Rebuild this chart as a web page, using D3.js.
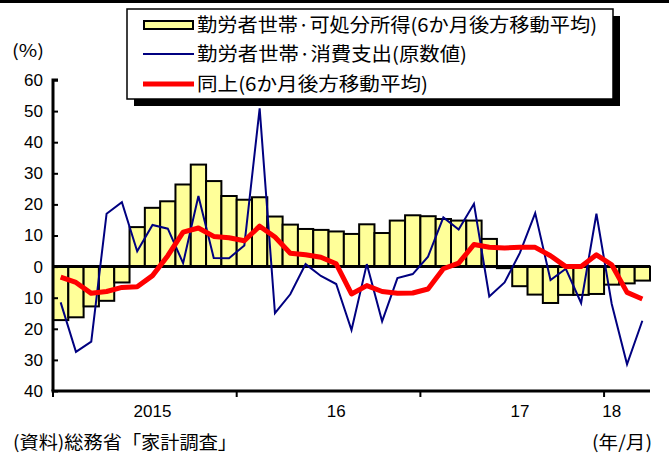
<!DOCTYPE html>
<html><head><meta charset="utf-8">
<script src="https://cdn.jsdelivr.net/npm/d3@7"></script>
<style>html,body{margin:0;padding:0;background:#fff;}svg{display:block;}</style>
</head><body>
<svg id="chart" width="669" height="458"></svg>
<script>
const months = ["2015-01","2015-02","2015-03","2015-04","2015-05","2015-06","2015-07","2015-08","2015-09","2015-10","2015-11","2015-12",
"2016-01","2016-02","2016-03","2016-04","2016-05","2016-06","2016-07","2016-08","2016-09","2016-10","2016-11","2016-12",
"2017-01","2017-02","2017-03","2017-04","2017-05","2017-06","2017-07","2017-08","2017-09","2017-10","2017-11","2017-12",
"2018-01","2018-02","2018-03"];
const income6m = [-17.2,-16.3,-12.8,-11,-5.1,12.7,18.9,21,26.4,32.8,27.5,22.7,
21.5,22.3,16.1,13.5,12.1,11.8,11.3,10.5,13.6,10.8,14.8,16.5,
16.2,15.3,14.8,14.8,8.9,-0.5,-6.3,-9,-11.7,-9.1,-9.1,-8.8,
-5.8,-5.4,-4.5];
const spending = [-11.5,-27.4,-24.1,17,20.7,4.9,13.4,12.2,1.1,22.7,2.8,2.7,
6.8,50.9,-15,-8.9,0.8,-3,-5.6,-20.4,0.8,-17.6,-3.7,-2.4,
3.2,15.8,11.9,20.2,-9.6,-5.1,4.4,17.2,-4.3,-0.7,-11.7,17,
-12,-31.4,-17.4];
const spending6m = [-3.4,-5.1,-8.6,-8,-6.7,-6.5,-2.9,3.5,11.1,12.4,9.7,9.3,
8.3,13,9.5,4.3,3.8,3,0.9,-8.8,-6.1,-8,-8.6,-8.5,
-7.2,-0.7,1.1,7.1,6.2,6,6.2,6.2,3.5,0,0,3.8,
0.6,-8.3,-10.4];
const yTicks = [60,50,40,30,20,10,0,-10,-20,-30,-40];
const yearTickMonths = ["2015-01","2016-01","2017-01","2018-01"];
const yearLabels = ["2015","16","17","18"];
const yearLabelMonths = ["2015-07","2016-07","2017-07","2018-01"];
const legendLabels = ["勤労者世帯·可処分所得(6か月後方移動平均)","勤労者世帯·消費支出(原数値)","同上(6か月後方移動平均)"];
const unitLabel = "(%)";
const sourceLabel = "(資料)総務省「家計調査」";
const xUnitLabel = "(年/月)";

const svg = d3.select("#chart");
const jp = "'Noto Sans CJK JP',sans-serif";
const pL = 53, pR = 650, pT = 80, pB = 391;

const x = d3.scaleBand().domain(months).range([pL, pR]).padding(0);
const y = d3.scaleLinear().domain([-40, 60]).range([pB, pT]);
const cx = m => x(m) + x.bandwidth() / 2;

// top black bar
svg.append("rect").attr("x",0).attr("y",0).attr("width",669).attr("height",3).attr("fill","#000");

// bars
svg.append("g").selectAll("rect").data(months).join("rect")
  .attr("x", m => x(m))
  .attr("width", x.bandwidth())
  .attr("y", (m,i) => y(Math.max(0, income6m[i])))
  .attr("height", (m,i) => Math.abs(y(income6m[i]) - y(0)))
  .attr("fill", "#FFFF99").attr("stroke", "#000").attr("stroke-width", 2);

// zero line
svg.append("line").attr("x1", pL).attr("x2", pR).attr("y1", y(0)).attr("y2", y(0))
  .attr("stroke","#000").attr("stroke-width",3);

// blue line
svg.append("path").datum(spending)
  .attr("d", d3.line().x((d,i)=>cx(months[i])).y(d=>y(d)))
  .attr("fill","none").attr("stroke","#000080").attr("stroke-width",2);

// red line
svg.append("path").datum(spending6m)
  .attr("d", d3.line().x((d,i)=>cx(months[i])).y(d=>y(d)))
  .attr("fill","none").attr("stroke","#FF0000").attr("stroke-width",5).attr("stroke-linejoin","round");

// y axis
const yAxis = d3.axisRight(y).tickValues(yTicks).tickSize(5).tickFormat(d => String(Math.abs(d)));
const gy = svg.append("g").attr("transform", `translate(${pL},0)`).call(yAxis);
gy.select(".domain").attr("stroke-width",3).attr("d", `M5,${pT}H0V${pB}`);
gy.selectAll(".tick line").attr("stroke-width",2);
gy.selectAll(".tick text").attr("x",-10).attr("text-anchor","end")
  .attr("font-family","'Liberation Sans',Arial,sans-serif").attr("font-size",17).attr("fill","#000");

// x axis
const gx = svg.append("g");
gx.append("line").attr("x1",pL-1.5).attr("x2",pR).attr("y1",pB).attr("y2",pB)
  .attr("stroke","#000").attr("stroke-width",3);
gx.selectAll("line.tick").data(yearTickMonths).join("line").attr("class","tick")
  .attr("x1", m => x(m)).attr("x2", m => x(m)).attr("y1", pB).attr("y2", pB+6)
  .attr("stroke","#000").attr("stroke-width",2);
gx.selectAll("text").data(yearLabels).join("text")
  .attr("x", (d,i) => cx(yearLabelMonths[i]))
  .attr("y", 417).attr("text-anchor","middle")
  .attr("font-family","'Liberation Sans',Arial,sans-serif").attr("font-size",17).text(d=>d);

// unit and footer
svg.append("text").attr("x",12).attr("y",57).attr("font-family",jp).attr("font-size",17).text(unitLabel)
  .attr("textLength",32).attr("lengthAdjust","spacingAndGlyphs");
svg.append("text").attr("x",13).attr("y",449).attr("font-family",jp).attr("font-size",18).text(sourceLabel)
  .attr("textLength",224).attr("lengthAdjust","spacingAndGlyphs");
svg.append("text").attr("x",592).attr("y",449).attr("font-family",jp).attr("font-size",18).text(xUnitLabel)
  .attr("textLength",60).attr("lengthAdjust","spacingAndGlyphs");

// legend
const lg = svg.append("g");
lg.append("rect").attr("x",134).attr("y",16).attr("width",486).attr("height",90).attr("fill","#000");
lg.append("rect").attr("x",127).attr("y",9).attr("width",486).attr("height",90).attr("fill","#fff")
  .attr("stroke","#000").attr("stroke-width",1.5);
const rowY = [25, 54, 84];
const widths = [400, 270, 231];
lg.append("rect").attr("x",144).attr("y",rowY[0]-4).attr("width",49).attr("height",8)
  .attr("fill","#FFFF99").attr("stroke","#000").attr("stroke-width",2);
lg.append("line").attr("x1",143).attr("x2",194).attr("y1",rowY[1]).attr("y2",rowY[1])
  .attr("stroke","#000080").attr("stroke-width",2);
lg.append("line").attr("x1",143).attr("x2",194).attr("y1",rowY[2]).attr("y2",rowY[2])
  .attr("stroke","#FF0000").attr("stroke-width",5);
lg.selectAll("text").data(legendLabels).join("text")
  .attr("x",197).attr("y",(d,i)=>rowY[i]+7)
  .attr("font-family",jp).attr("font-size",19)
  .attr("textLength",(d,i)=>widths[i]).attr("lengthAdjust","spacingAndGlyphs")
  .text(d=>d);
</script>
</body></html>
